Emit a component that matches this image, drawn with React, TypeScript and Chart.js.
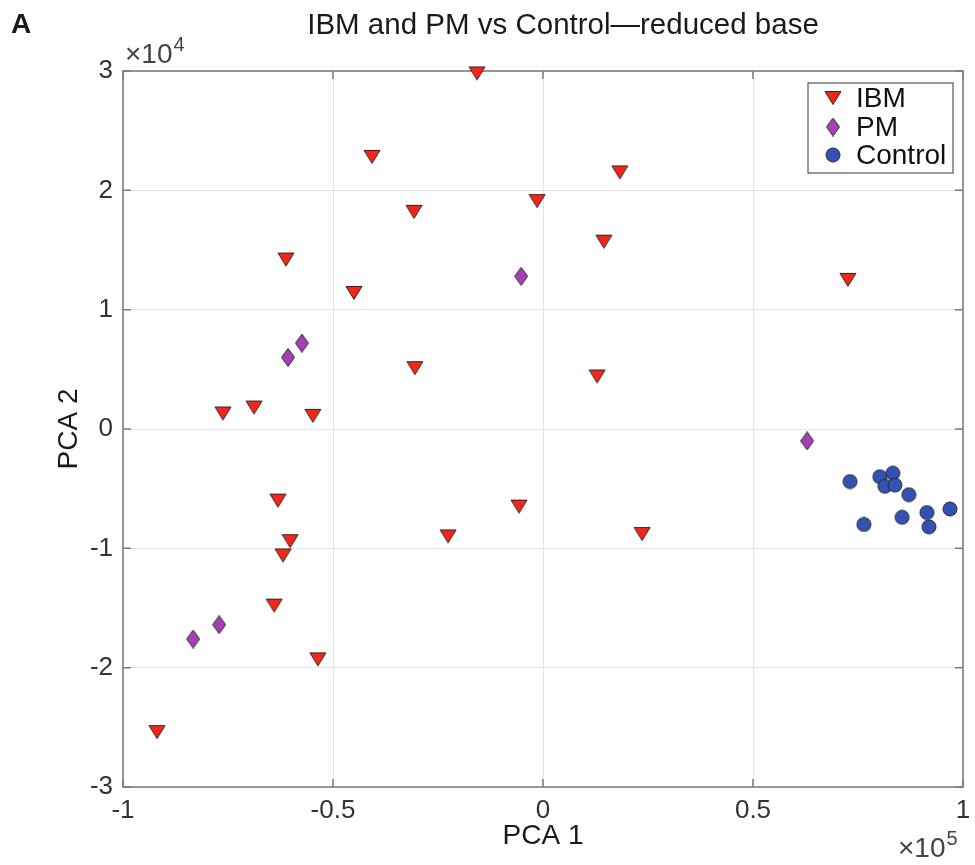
import React, { useEffect, useRef } from 'react';
import { Chart, registerables } from 'chart.js';

Chart.register(...registerables);

// PCA 1 values in units of 1e5, PCA 2 values in units of 1e4
const ibmX = [-0.157, -0.407, 0.183, -0.014, -0.307, 0.145, -0.612, -0.45, 0.726, -0.305, 0.129, -0.762, -0.688, -0.548, -0.631, -0.602, -0.619, -0.057, -0.226, 0.236, -0.64, -0.536, -0.919];
const ibmY = [2.98, 2.28, 2.15, 1.91, 1.82, 1.57, 1.42, 1.14, 1.25, 0.51, 0.44, 0.13, 0.18, 0.11, -0.6, -0.94, -1.06, -0.65, -0.9, -0.88, -1.48, -1.93, -2.54];

const pmX = [-0.052, -0.574, -0.607, 0.629, -0.833, -0.771];
const pmY = [1.28, 0.72, 0.6, -0.1, -1.76, -1.64];

const ctrlX = [0.731, 0.802, 0.833, 0.814, 0.838, 0.871, 0.764, 0.855, 0.914, 0.919, 0.969];
const ctrlY = [-0.44, -0.4, -0.37, -0.48, -0.47, -0.55, -0.8, -0.74, -0.7, -0.82, -0.67];

const seriesNames = ['IBM', 'PM', 'Control'];
const seriesColors = ['#f4261a', '#a640b4', '#3352b4'];

const xScaleFactor = 1e5;
const yScaleFactor = 1e4;
const xTicks = [-1, -0.5, 0, 0.5, 1];
const yTicks = [-3, -2, -1, 0, 1, 2, 3];

const FONT = '"Liberation Sans", Arial, Helvetica, sans-serif';
const EDGE = '#2a2a2a';
const AXIS = '#7a7a7a';

function makeMarker(kind: string, fill: string): HTMLCanvasElement {
  const c = document.createElement('canvas');
  let w = 16, h = 16;
  if (kind === 'tri') { w = 18; h = 16; }
  if (kind === 'dia') { w = 14; h = 19; }
  c.width = w; c.height = h;
  const g = c.getContext('2d')!;
  g.fillStyle = fill;
  g.strokeStyle = EDGE;
  g.lineWidth = 1;
  g.beginPath();
  if (kind === 'tri') {
    g.moveTo(1, 1.5); g.lineTo(17, 1.5); g.lineTo(9, 14.5); g.closePath();
  } else if (kind === 'dia') {
    g.moveTo(7, 0.5); g.lineTo(13.5, 9.5); g.lineTo(7, 18.5); g.lineTo(0.5, 9.5); g.closePath();
  } else {
    g.arc(8, 8, 7, 0, Math.PI * 2);
  }
  g.fill();
  g.stroke();
  return c;
}

function toPoints(xs: number[], ys: number[]) {
  return xs.map((x, i) => ({ x: x * xScaleFactor, y: ys[i] * yScaleFactor }));
}

export default function App() {
  const ref = useRef<HTMLCanvasElement | null>(null);

  useEffect(() => {
    if (!ref.current) return;
    const markers = [
      makeMarker('tri', seriesColors[0]),
      makeMarker('dia', seriesColors[1]),
      makeMarker('circ', seriesColors[2]),
    ];

    const decor = {
      id: 'decor',
      beforeDatasetsDraw(chart: any) {
        const ctx = chart.ctx as CanvasRenderingContext2D;
        const { left, right, top, bottom } = chart.chartArea;
        const xs = chart.scales.x;
        const ys = chart.scales.y;
        ctx.save();
        ctx.strokeStyle = AXIS;
        ctx.lineWidth = 1.5;
        ctx.strokeRect(left, top, right - left, bottom - top);
        const tl = 8;
        ctx.beginPath();
        xTicks.forEach((t) => {
          const px = xs.getPixelForValue(t * xScaleFactor);
          ctx.moveTo(px, bottom); ctx.lineTo(px, bottom - tl);
          ctx.moveTo(px, top); ctx.lineTo(px, top + tl);
        });
        yTicks.forEach((t) => {
          const py = ys.getPixelForValue(t * yScaleFactor);
          ctx.moveTo(left, py); ctx.lineTo(left + tl, py);
          ctx.moveTo(right, py); ctx.lineTo(right - tl, py);
        });
        ctx.stroke();
        ctx.restore();
      },
      afterDraw(chart: any) {
        const ctx = chart.ctx as CanvasRenderingContext2D;
        ctx.save();
        ctx.fillStyle = '#1a1a1a';
        ctx.textBaseline = 'alphabetic';
        ctx.textAlign = 'left';
        ctx.font = `bold 28px ${FONT}`;
        ctx.fillText('A', 11, 33);
        ctx.textAlign = 'center';
        ctx.font = `29.5px ${FONT}`;
        ctx.fillText('IBM and PM vs Control\u2014reduced base', 563, 34);

        ctx.textAlign = 'left';
        ctx.fillStyle = '#444';
        ctx.font = `28px ${FONT}`;
        ctx.fillText('\u00d710', 125, 63);
        const w1 = ctx.measureText('\u00d710').width;
        ctx.font = `20px ${FONT}`;
        ctx.fillText('4', 125 + w1 + 1, 51);

        ctx.font = `28px ${FONT}`;
        ctx.fillText('\u00d710', 898, 857);
        const w2 = ctx.measureText('\u00d710').width;
        ctx.font = `20px ${FONT}`;
        ctx.fillText('5', 898 + w2 + 1, 845);

        // legend
        const lx = 808, ly = 83, lw = 145, lh = 90;
        ctx.fillStyle = '#ffffff';
        ctx.fillRect(lx, ly, lw, lh);
        ctx.strokeStyle = '#555';
        ctx.lineWidth = 1.2;
        ctx.strokeRect(lx, ly, lw, lh);
        const rows = [98, 127, 155];
        ctx.font = `28px ${FONT}`;
        ctx.textBaseline = 'middle';
        ctx.fillStyle = '#111';
        seriesNames.forEach((name, i) => {
          const m = markers[i];
          ctx.drawImage(m, 833 - m.width / 2, rows[i] - m.height / 2);
          ctx.fillText(name, 856, rows[i] + 1);
        });
        ctx.restore();
      },
    };

    const chart = new Chart(ref.current, {
      type: 'scatter',
      data: {
        datasets: [
          { label: seriesNames[0], data: toPoints(ibmX, ibmY), pointStyle: markers[0] as any, pointRadius: 9, backgroundColor: seriesColors[0], clip: false as any },
          { label: seriesNames[1], data: toPoints(pmX, pmY), pointStyle: markers[1] as any, pointRadius: 9, backgroundColor: seriesColors[1], clip: false as any },
          { label: seriesNames[2], data: toPoints(ctrlX, ctrlY), pointStyle: markers[2] as any, pointRadius: 8, backgroundColor: seriesColors[2], clip: false as any },
        ],
      },
      options: {
        animation: false,
        responsive: false,
        events: [],
        layout: { padding: { left: 0, right: 12, top: 71, bottom: 0 } },
        plugins: { legend: { display: false }, tooltip: { enabled: false }, title: { display: false } },
        scales: {
          x: {
            type: 'linear',
            min: -1 * xScaleFactor,
            max: 1 * xScaleFactor,
            afterBuildTicks: (s: any) => { s.ticks = xTicks.map((v) => ({ value: v * xScaleFactor })); },
            afterFit: (s: any) => { s.height = 78; s.paddingLeft = 0; s.paddingRight = 0; },
            grid: { color: '#e4e4e4', lineWidth: 1, drawTicks: false },
            border: { display: false },
            ticks: {
              padding: 8,
              color: '#333',
              font: { family: FONT, size: 26 },
              callback: (v: any) => String(Number(v) / xScaleFactor),
            },
            title: { display: true, text: 'PCA 1', color: '#1a1a1a', font: { family: FONT, size: 28 }, padding: { top: 0, bottom: 12 } },
          },
          y: {
            type: 'linear',
            min: -3 * yScaleFactor,
            max: 3 * yScaleFactor,
            afterBuildTicks: (s: any) => { s.ticks = yTicks.map((v) => ({ value: v * yScaleFactor })); },
            afterFit: (s: any) => { s.width = 123; s.paddingTop = 0; s.paddingBottom = 0; },
            grid: { color: '#e4e4e4', lineWidth: 1, drawTicks: false },
            border: { display: false },
            ticks: {
              padding: 10,
              color: '#333',
              font: { family: FONT, size: 26 },
              callback: (v: any) => String(Number(v) / yScaleFactor),
            },
            title: { display: true, text: 'PCA 2', color: '#1a1a1a', font: { family: FONT, size: 28 }, padding: { top: 52, bottom: 0 } },
          },
        },
      },
      plugins: [decor],
    });
    return () => chart.destroy();
  }, []);

  return (
    <div style={{ position: 'absolute', left: 0, top: 0, width: 975, height: 865, background: '#fff' }}>
      <canvas ref={ref} width={975} height={865} style={{ display: 'block', width: 975, height: 865 }} />
    </div>
  );
}
